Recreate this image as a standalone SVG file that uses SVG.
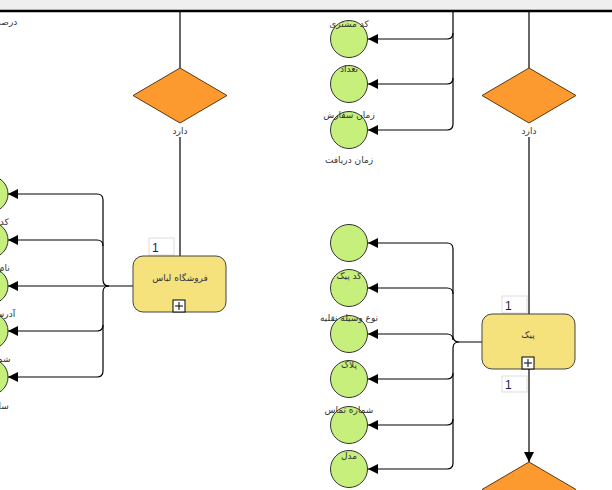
<svg xmlns="http://www.w3.org/2000/svg" width="612" height="490" viewBox="0 0 612 490">
<defs>
<style>
.c{fill:#c6ef7b;stroke:#333;stroke-width:1}
.d{fill:#fd9a2f;stroke:#5a3a10;stroke-width:1}
.b{fill:#f5e27c;stroke:#444;stroke-width:1}
.l{fill:none;stroke:#000;stroke-width:1.2}
.t{font-family:"DejaVu Sans",sans-serif;font-size:9px;fill:#333;text-anchor:middle}
.n{font-family:"Liberation Sans",sans-serif;font-size:12px;fill:#1a1a5a}
.nb{fill:#fff;stroke:#ddd;stroke-width:1}
.p{fill:#fff;stroke:#000;stroke-width:1}
</style>
<marker id="a" viewBox="0 0 10 10" refX="10" refY="5" markerWidth="10" markerHeight="10" markerUnits="userSpaceOnUse" orient="auto">
<path d="M0,0 L10,5 L0,10 z" fill="#000"/>
</marker>
</defs>
<rect width="612" height="490" fill="#fff"/>

<g id="connectors">
<line class="l" x1="180" y1="11" x2="180" y2="68"/>
<line class="l" x1="180" y1="137" x2="180" y2="256"/>
<line class="l" x1="529" y1="11" x2="529" y2="68"/>
<line class="l" x1="529" y1="137" x2="529" y2="314"/>
<line class="l" x1="529" y1="369" x2="529" y2="462" marker-end="url(#a)"/>
<path class="l" d="M133,286 L109,286 Q103,286 103,280 L103,200 Q103,194 97,194 L8,194" marker-end="url(#a)"/>
<path class="l" d="M109,286 Q103,286 103,292 L103,371 Q103,377 97,377 L8,377" marker-end="url(#a)"/>
<path class="l" d="M103,246 Q103,240 97,240 L8,240" marker-end="url(#a)"/>
<path class="l" d="M109,286 L8,286" marker-end="url(#a)"/>
<path class="l" d="M103,325 Q103,331 97,331 L8,331" marker-end="url(#a)"/>
<path class="l" d="M453,11 L453,124 Q453,130 447,130 L368,130" marker-end="url(#a)"/>
<path class="l" d="M453,33 Q453,39 447,39 L368,39" marker-end="url(#a)"/>
<path class="l" d="M453,78 Q453,84 447,84 L368,84" marker-end="url(#a)"/>
<path class="l" d="M482,342 L459,342 Q453,342 453,336 L453,249 Q453,243 447,243 L368,243" marker-end="url(#a)"/>
<path class="l" d="M459,342 Q453,342 453,348 L453,463 Q453,469 447,469 L368,469" marker-end="url(#a)"/>
<path class="l" d="M453,294 Q453,288 447,288 L368,288" marker-end="url(#a)"/>
<path class="l" d="M453,340 Q453,334 447,334 L368,334" marker-end="url(#a)"/>
<path class="l" d="M453,373 Q453,379 447,379 L368,379" marker-end="url(#a)"/>
<path class="l" d="M453,419 Q453,425 447,425 L368,425" marker-end="url(#a)"/>
</g>

<g id="store-attrs">
<circle class="c" cx="-10" cy="194" r="18"/>
<circle class="c" cx="-10" cy="240" r="18"/>
<circle class="c" cx="-10" cy="286" r="18"/>
<circle class="c" cx="-10" cy="331" r="18"/>
<circle class="c" cx="-10" cy="377" r="18"/>
<text class="t" x="-7" y="25">درصد تخفیف</text>
<text class="t" x="-14" y="225">کد فروشگاه</text>
<text class="t" x="-14" y="271">نام فروشگاه</text>
<text class="t" x="-14" y="317">آدرس فروشگاه</text>
<text class="t" x="-14" y="362">شماره تماس</text>
<text class="t" x="-14" y="409">ساعت کاری</text>
</g>

<g id="order-attrs">
<circle class="c" cx="349" cy="-7" r="18.5"/>
<circle class="c" cx="349" cy="39" r="18.5"/>
<circle class="c" cx="349" cy="84" r="18.5"/>
<circle class="c" cx="349" cy="130" r="18.5"/>
<text class="t" x="349" y="27">کد مشتری</text>
<text class="t" x="349" y="72">تعداد</text>
<text class="t" x="349" y="118">زمان سفارش</text>
<text class="t" x="349" y="163">زمان دریافت</text>
</g>

<g id="courier-attrs">
<circle class="c" cx="349" cy="243" r="18.5"/>
<circle class="c" cx="349" cy="288" r="18.5"/>
<circle class="c" cx="349" cy="334" r="18.5"/>
<circle class="c" cx="349" cy="379" r="18.5"/>
<circle class="c" cx="349" cy="425" r="18.5"/>
<circle class="c" cx="349" cy="469" r="18.5"/>
<text class="t" x="349" y="279">کد پیک</text>
<text class="t" x="349" y="321">نوع وسیله نقلیه</text>
<text class="t" x="349" y="368">پلاک</text>
<text class="t" x="349" y="413">شماره تماس</text>
<text class="t" x="349" y="459">مدل</text>
</g>

<g id="band">
<rect x="0" y="0" width="612" height="10" fill="#efefef"/>
<line x1="0" y1="11" x2="612" y2="11" stroke="#000" stroke-width="2.5"/>
</g>

<g id="rel-left">
<polygon class="d" points="180,68 227,95.5 180,123 133,95.5"/>
<text class="t" x="180" y="134">دارد</text>
</g>

<g id="rel-right">
<polygon class="d" points="529,68 576,95.5 529,123 482,95.5"/>
<text class="t" x="529" y="134">دارد</text>
</g>

<g id="rel-bottom">
<polygon class="d" points="529,462 576,489.5 529,517 482,489.5"/>
</g>

<g id="store">
<rect class="nb" x="149" y="238" width="25" height="17"/>
<text class="n" x="152" y="252">1</text>
<rect class="b" x="133" y="256" width="93" height="56" rx="10"/>
<text class="t" x="180" y="281">فروشگاه لباس</text>
<rect class="p" x="173" y="300" width="12" height="12"/>
<path d="M179,302 V310 M175,306 H183" stroke="#000" stroke-width="1"/>
</g>

<g id="courier">
<rect class="nb" x="502" y="296" width="25" height="17"/>
<text class="n" x="505" y="310">1</text>
<rect class="nb" x="502" y="376" width="25" height="16"/>
<text class="n" x="505" y="389">1</text>
<rect class="b" x="482" y="314" width="93" height="55" rx="10"/>
<text class="t" x="528" y="338">پیک</text>
<rect class="p" x="522" y="357" width="12" height="12"/>
<path d="M528,359 V367 M524,363 H532" stroke="#000" stroke-width="1"/>
</g>
</svg>
